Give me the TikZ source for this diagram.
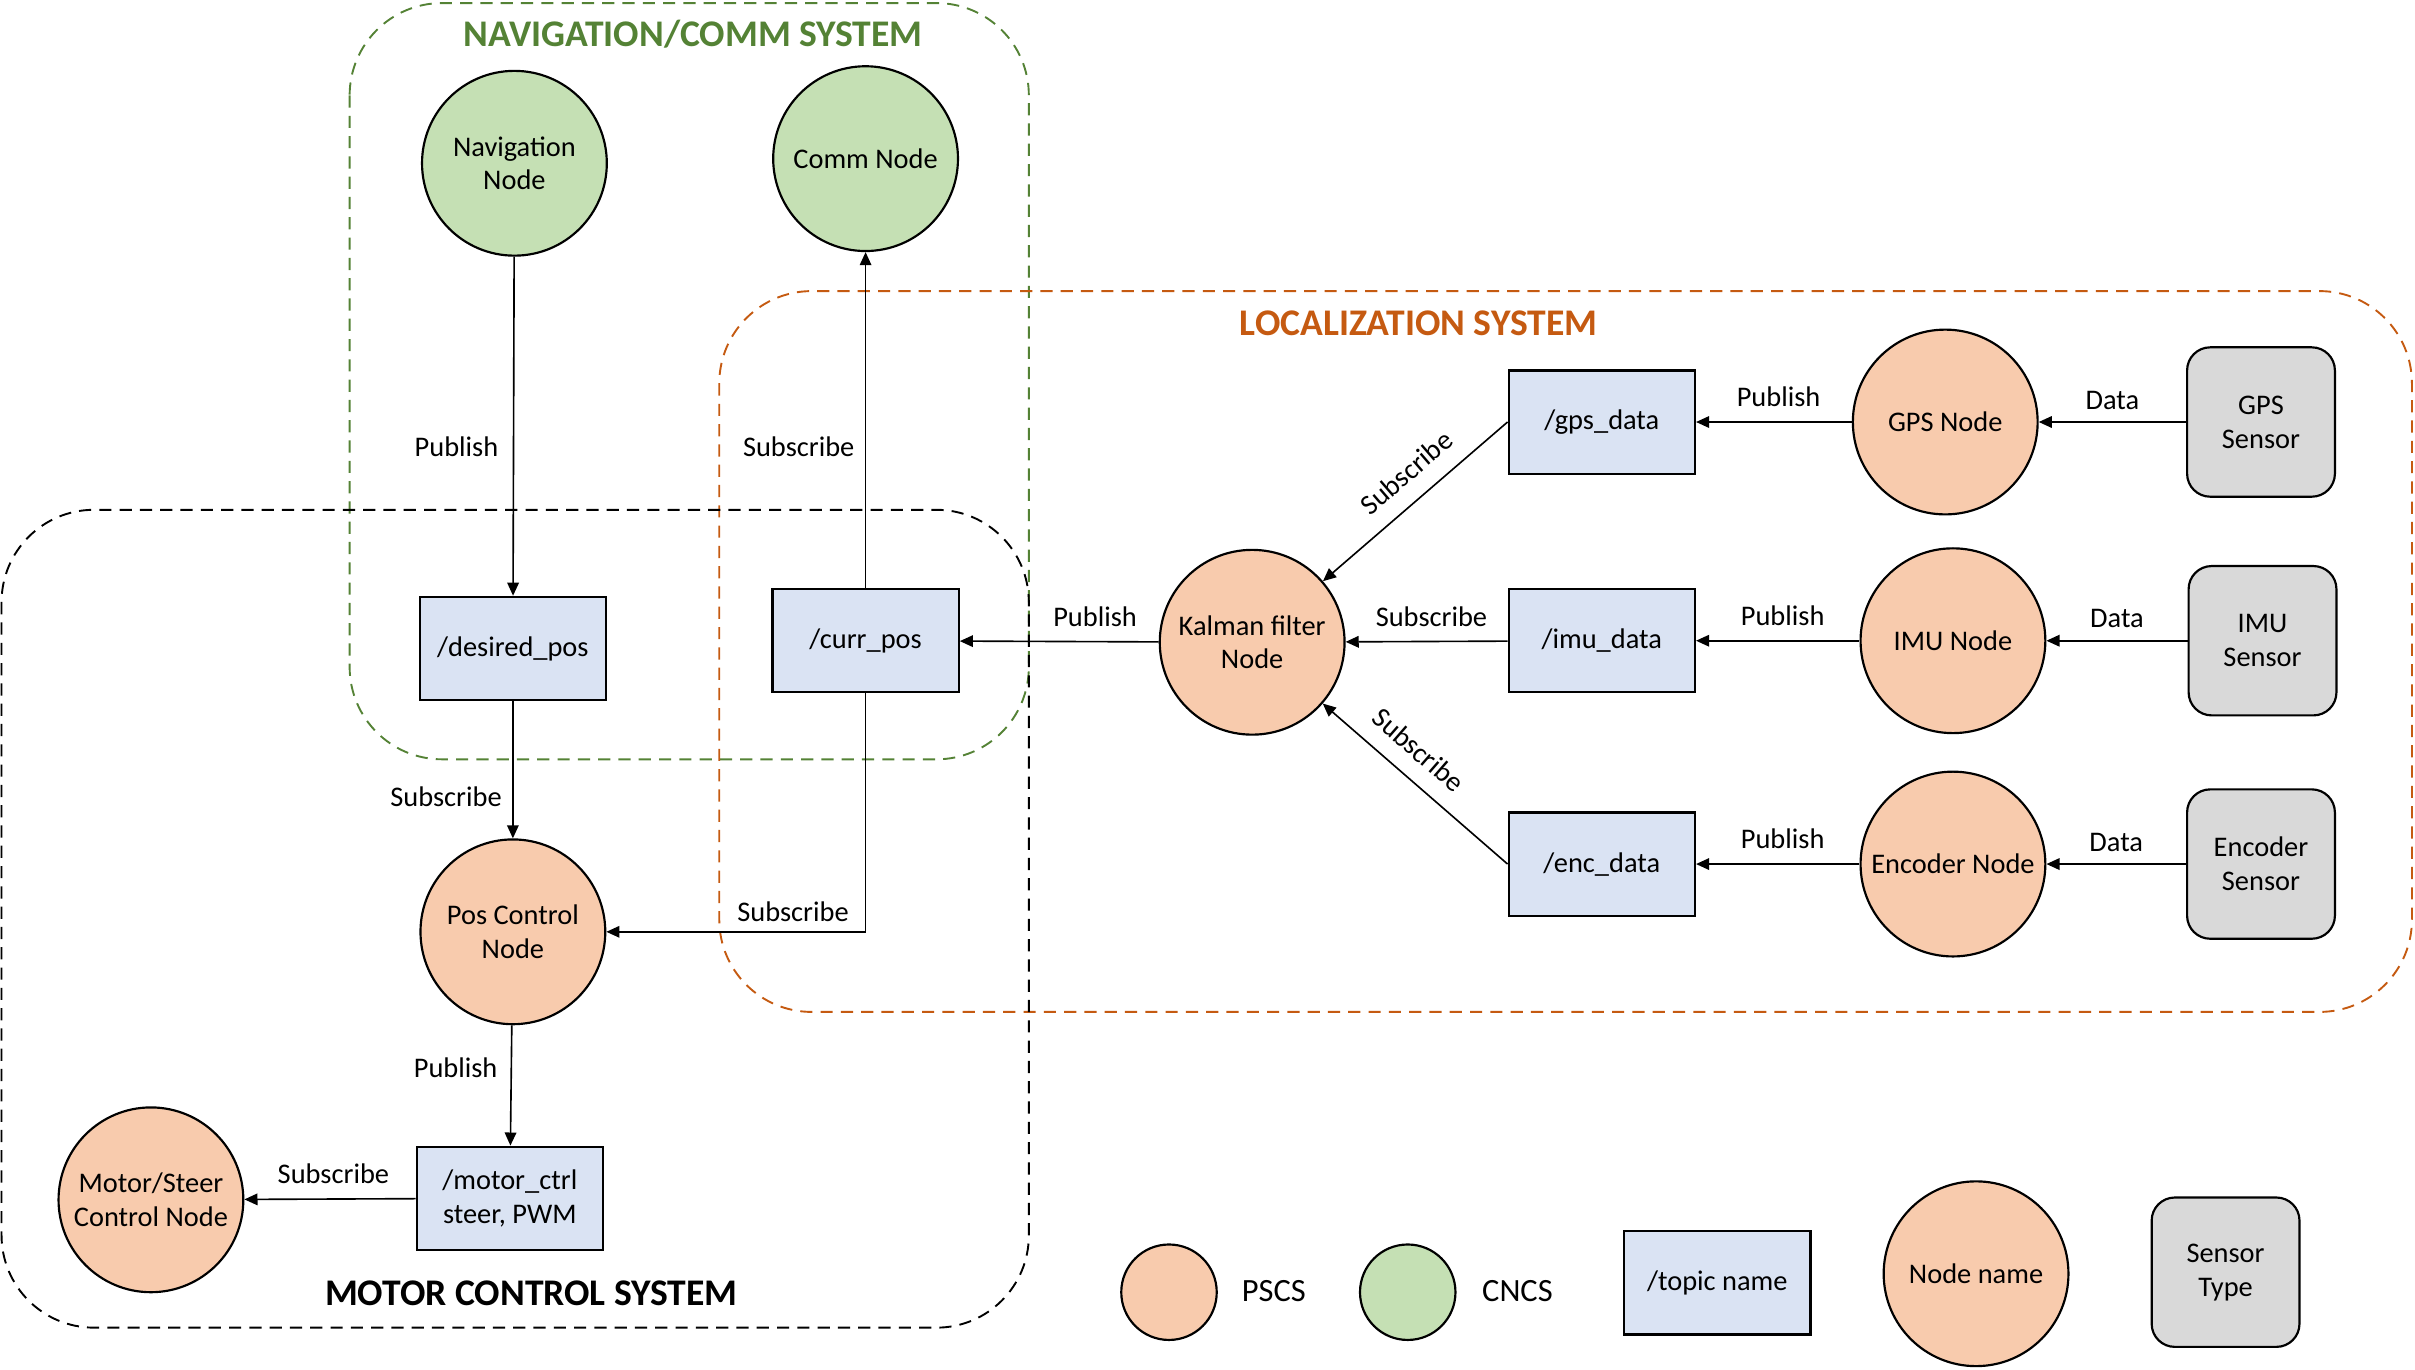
\documentclass[tikz,border=0pt]{standalone}
\usepackage{fontspec}
\setmainfont{Carlito}
\usetikzlibrary{arrows.meta}

\definecolor{pscs}{HTML}{F8CBAD}
\definecolor{cncs}{HTML}{C5E0B4}
\definecolor{topicblue}{HTML}{DAE3F3}
\definecolor{sensorgray}{HTML}{D9D9D9}
\definecolor{navgreen}{HTML}{548235}
\definecolor{locorange}{HTML}{C55A11}

\begin{document}
\begin{tikzpicture}[x=0.02cm, y=-0.02cm, font=\fontsize{10.5}{12.5}\selectfont,
	pnode/.style={circle, draw, fill=pscs, minimum size=2.4cm, inner sep=0pt, align=center, line width=0.8pt},
	cnode/.style={circle, draw, fill=cncs, minimum size=2.4cm, inner sep=0pt, align=center, line width=0.8pt},
	topic/.style={rectangle, draw, fill=topicblue, minimum width=2.42cm, minimum height=1.34cm, inner sep=1pt, align=center, line width=0.8pt},
	sensor/.style={rectangle, draw, fill=sensorgray, rounded corners=0.3cm, minimum width=1.92cm, minimum height=1.94cm, align=center, line width=0.8pt},
	conn/.style={-{Triangle[length=1.7mm, width=1.5mm]}, line width=0.6pt},
	sysframe/.style={rounded corners=1.2cm, line width=0.7pt, dash pattern=on 4.5pt off 3pt},
	systitle/.style={font=\fontsize{13.9}{16.5}\selectfont\bfseries},
	legtext/.style={font=\fontsize{12}{14}\selectfont, anchor=west, inner sep=0pt}]
\useasboundingbox (0,0) rectangle (1568,889);

% system frames
\draw[sysframe, navgreen] (227,2) rectangle (668,493);
\node[systitle, text=navgreen] (navtitle) at (450,22) {NAVIGATION/COMM SYSTEM};
\draw[sysframe, locorange] (467,189) rectangle (1566,657);
\node[systitle, text=locorange] (loctitle) at (921,210) {LOCALIZATION SYSTEM};
\draw[sysframe, black] (1,331) rectangle (668,862);
\node[systitle] (mottitle) at (345,840) {MOTOR CONTROL SYSTEM};

% navigation / comm
\node[cnode] (nav) at (334,106) {Navigation\\Node};
\node[cnode] (comm) at (562,103) {Comm Node};
\node[topic] (desired) at (333,421) {/desired\_pos};
\node[topic] (curr) at (562,416) {/curr\_pos};

% motor control
\node[pnode] (posctrl) at (333,605) {Pos Control\\Node};
\node[topic] (motorctrl) at (331,778) {/motor\_ctrl\\steer, PWM};
\node[pnode] (motor) at (98,779) {Motor/Steer\\Control Node};

% localization
\node[pnode] (kalman) at (813,417) {Kalman filter\\Node};
\node[topic] (gpsdata) at (1040,274) {/gps\_data};
\node[topic] (imudata) at (1040,416) {/imu\_data};
\node[topic] (encdata) at (1040,561) {/enc\_data};
\node[pnode] (gps) at (1263,274) {GPS Node};
\node[pnode] (imu) at (1268,416) {IMU Node};
\node[pnode] (enc) at (1268,561) {Encoder Node};
\node[sensor] (gpssens) at (1468,274) {GPS\\Sensor};
\node[sensor] (imusens) at (1469,416) {IMU\\Sensor};
\node[sensor] (encsens) at (1468,561) {Encoder\\Sensor};

% connections
\draw[conn] (nav) -- (desired) node[pos=0.56, left=2pt] {Publish};
\draw[conn] (curr) -- (comm) node[pos=0.42, left=0.5pt] {Subscribe};
\draw[conn] (desired) -- (posctrl) node[pos=0.7, left=0.5pt] {Subscribe};
\draw[conn] (curr.south) |- (posctrl.east) node[pos=0.64, above] {Subscribe};
\draw[conn] (posctrl) -- (motorctrl) node[pos=0.35, left=1.5pt] {Publish};
\draw[conn] (motorctrl) -- (motor) node[pos=0.48, above=2pt] {Subscribe};
\draw[conn] (kalman) -- (curr) node[pos=0.32, above=2pt] {Publish};

\draw[conn] (gpsdata.west) -- (kalman) node[pos=0.45, sloped, above=3pt] {Subscribe};
\draw[conn] (imudata) -- (kalman) node[pos=0.47, above=2pt] {Subscribe};
\draw[conn] (encdata.west) -- (kalman) node[pos=0.58, sloped, above=3pt] {Subscribe};

\draw[conn] (gps) -- (gpsdata) node[pos=0.47, above=2pt] {Publish};
\draw[conn] (imu) -- (imudata) node[pos=0.47, above=2pt] {Publish};
\draw[conn] (enc) -- (encdata) node[pos=0.47, above=2pt] {Publish};
\draw[conn] (gpssens) -- (gps) node[midway, above=1pt] {Data};
\draw[conn] (imusens) -- (imu) node[midway, above=1pt] {Data};
\draw[conn] (encsens) -- (enc) node[midway, above=1pt] {Data};

% legend
\node[pnode, minimum size=1.24cm] (legp) at (759,839) {};
\node[legtext] (legptext) at (806,838) {PSCS};
\node[cnode, minimum size=1.24cm] (legc) at (914,839) {};
\node[legtext] (legctext) at (962,838) {CNCS};
\node[topic] (legtopic) at (1115,833) {/topic name};
\node[pnode] (legnode) at (1283,827) {Node name};
\node[sensor] (legsens) at (1445,826) {Sensor\\Type};
\end{tikzpicture}
\end{document}
